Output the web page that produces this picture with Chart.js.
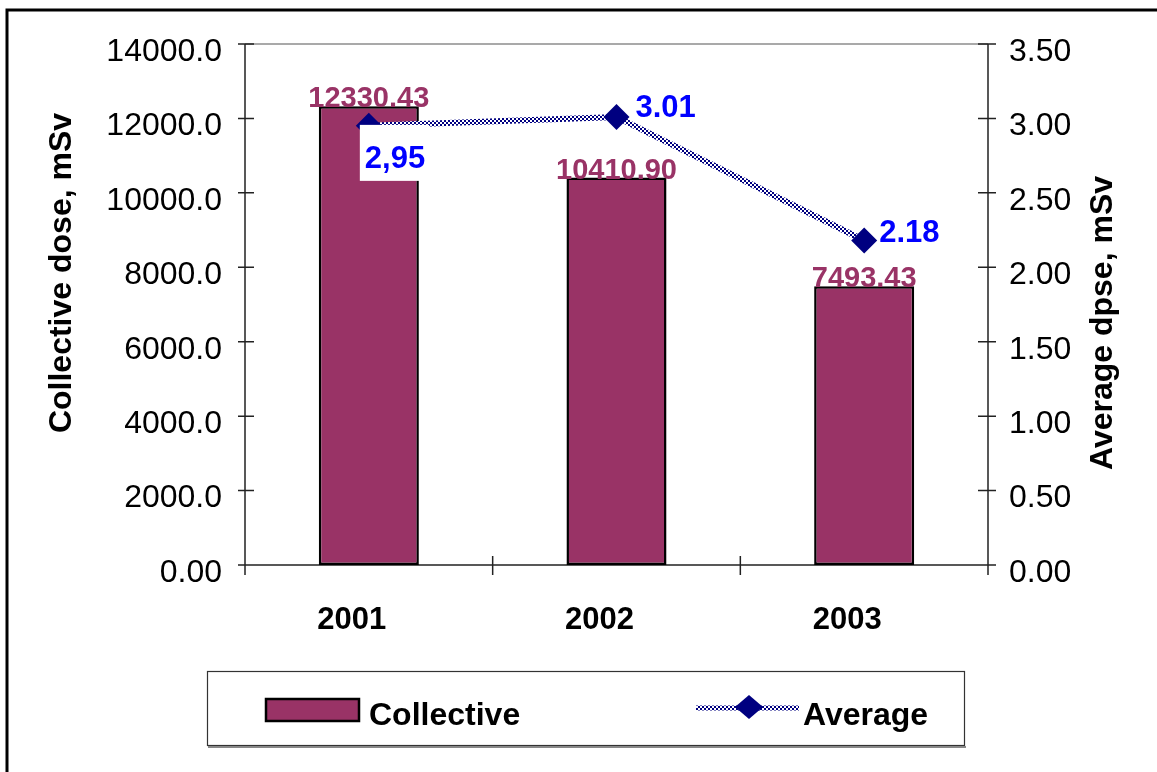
<!DOCTYPE html>
<html>
<head>
<meta charset="utf-8">
<script src="https://cdn.jsdelivr.net/npm/chart.js@4.4.1/dist/chart.umd.min.js"></script>
<style>
  html, body { margin: 0; padding: 0; background: #fff; }
  canvas { display: block; }
</style>
</head>
<body>
<canvas id="doseChart" width="1157" height="772"></canvas>
<script>
const years = ['2001', '2002', '2003'];
const collectiveDose = [12330.43, 10410.90, 7493.43];
const averageDose = [2.95, 3.01, 2.18];
const averageLabels = ['2,95', '3.01', '2.18'];
const doseTicks = [0, 2000, 4000, 6000, 8000, 10000, 12000, 14000];
const averageTicks = [0, 0.5, 1, 1.5, 2, 2.5, 3, 3.5];

const BAR_COLOR = '#993366';
const NAVY = '#000080';
const FONT = 'Arial, "Liberation Sans", sans-serif';

// checkered navy/white stroke for the average line
function checkerPattern() {
    const c = document.createElement('canvas');
    c.width = 4; c.height = 4;
    const g = c.getContext('2d');
    g.fillStyle = '#fff';
    g.fillRect(0, 0, 4, 4);
    g.fillStyle = NAVY;
    g.fillRect(0, 0, 2, 2);
    g.fillRect(2, 2, 2, 2);
    return g.createPattern(c, 'repeat');
}
const lineStroke = checkerPattern();

function diamond(ctx, x, y, rx, ry) {
    ctx.beginPath();
    ctx.moveTo(x, y - ry);
    ctx.lineTo(x + rx, y);
    ctx.lineTo(x, y + ry);
    ctx.lineTo(x - rx, y);
    ctx.closePath();
    ctx.fill();
}

// axis lines and tick marks that cross the axes
const axisFrame = {
    id: 'axisFrame',
    beforeDatasetsDraw(chart) {
        const { ctx, chartArea: a, scales } = chart;
        ctx.save();
        ctx.lineWidth = 1.5;
        ctx.strokeStyle = '#8c8c8c';
        ctx.beginPath();
        ctx.moveTo(a.left, a.top);
        ctx.lineTo(a.right, a.top);
        ctx.stroke();

        ctx.strokeStyle = '#222';
        ctx.beginPath();
        ctx.moveTo(a.left, a.top);
        ctx.lineTo(a.left, a.bottom);
        ctx.moveTo(a.right, a.top);
        ctx.lineTo(a.right, a.bottom);
        ctx.moveTo(a.left, a.bottom);
        ctx.lineTo(a.right, a.bottom);
        doseTicks.forEach(v => {
            const y = scales.y.getPixelForValue(v);
            ctx.moveTo(a.left - 7, y);
            ctx.lineTo(a.left + 9, y);
        });
        averageTicks.forEach(v => {
            const y = scales.y1.getPixelForValue(v);
            ctx.moveTo(a.right - 10, y);
            ctx.lineTo(a.right + 8, y);
        });
        const step = a.width / years.length;
        for (let i = 0; i <= years.length; i++) {
            const x = a.left + i * step;
            ctx.moveTo(x, a.bottom - 9);
            ctx.lineTo(x, a.bottom + 10);
        }
        ctx.stroke();
        ctx.restore();
    }
};

// value labels on bars and on the average points
const valueLabels = {
    id: 'valueLabels',
    afterDatasetsDraw(chart) {
        const { ctx } = chart;
        ctx.save();
        const bars = chart.getDatasetMeta(1).data;
        ctx.font = 'bold 29px ' + FONT;
        ctx.fillStyle = BAR_COLOR;
        ctx.textAlign = 'center';
        ctx.textBaseline = 'alphabetic';
        bars.forEach((bar, i) => {
            ctx.fillText(collectiveDose[i].toFixed(2), bar.x, bar.y + 1);
        });

        const pts = chart.getDatasetMeta(0).data;
        ctx.font = 'bold 31px ' + FONT;
        ctx.textAlign = 'left';
        ctx.textBaseline = 'middle';
        // first label sits below the point on a white box
        const p0 = pts[0];
        const w0 = ctx.measureText(averageLabels[0]).width;
        ctx.fillStyle = '#fff';
        ctx.fillRect(p0.x - 9, p0.y - 1, w0 + 9, 56);
        ctx.fillStyle = '#0000ff';
        ctx.fillText(averageLabels[0], p0.x - 4, p0.y + 34);
        ctx.fillText(averageLabels[1], pts[1].x + 19, pts[1].y - 8);
        ctx.fillText(averageLabels[2], pts[2].x + 15, pts[2].y - 7);
        ctx.restore();
    }
};

// axis titles, legend box and outer frame
const decorations = {
    id: 'decorations',
    afterDraw(chart) {
        const { ctx } = chart;
        ctx.save();
        ctx.fillStyle = '#000';
        ctx.font = 'bold 32px ' + FONT;
        ctx.textAlign = 'center';
        ctx.textBaseline = 'middle';
        ctx.translate(62, 273);
        ctx.rotate(-Math.PI / 2);
        ctx.fillText('Collective dose, mSv', 0, 0);
        ctx.restore();

        ctx.save();
        ctx.fillStyle = '#000';
        ctx.font = 'bold 32px ' + FONT;
        ctx.textAlign = 'center';
        ctx.textBaseline = 'middle';
        ctx.translate(1103, 323);
        ctx.rotate(-Math.PI / 2);
        ctx.fillText('Average dpse, mSv', 0, 0);
        ctx.restore();

        ctx.save();
        // legend
        ctx.strokeStyle = '#333';
        ctx.lineWidth = 1.2;
        ctx.strokeRect(207.5, 671.5, 757, 74);
        ctx.strokeStyle = '#888';
        ctx.lineWidth = 2;
        ctx.beginPath();
        ctx.moveTo(208, 747);
        ctx.lineTo(966, 747);
        ctx.stroke();

        ctx.fillStyle = BAR_COLOR;
        ctx.fillRect(266, 699, 93, 22);
        ctx.strokeStyle = '#000';
        ctx.lineWidth = 2.5;
        ctx.strokeRect(266, 699, 93, 22);

        ctx.strokeStyle = lineStroke;
        ctx.lineWidth = 5;
        ctx.beginPath();
        ctx.moveTo(696, 708);
        ctx.lineTo(799, 708);
        ctx.stroke();
        ctx.fillStyle = NAVY;
        diamond(ctx, 749, 707, 14, 12);

        ctx.fillStyle = '#000';
        ctx.font = 'bold 32px ' + FONT;
        ctx.textAlign = 'left';
        ctx.textBaseline = 'middle';
        ctx.fillText('Collective', 369, 716);
        ctx.fillText('Average', 803, 716);

        // outer frame (top and left edges)
        ctx.strokeStyle = '#000';
        ctx.lineWidth = 3;
        ctx.beginPath();
        ctx.moveTo(7, 800);
        ctx.lineTo(7, 10);
        ctx.lineTo(1200, 10);
        ctx.stroke();
        ctx.restore();
    }
};

new Chart(document.getElementById('doseChart').getContext('2d'), {
    type: 'bar',
    data: {
        labels: years,
        datasets: [{
                label: 'Average',
                type: 'line',
                data: averageDose,
                yAxisID: 'y1',
                order: 0,
                borderColor: lineStroke,
                borderWidth: 6,
                tension: 0,
                fill: false,
                pointStyle: 'rectRot',
                pointRadius: 13,
                pointBackgroundColor: NAVY,
                pointBorderColor: NAVY,
                pointBorderWidth: 0,
            },
            {
                label: 'Collective',
                data: collectiveDose,
                yAxisID: 'y',
                order: 1,
                backgroundColor: BAR_COLOR,
                borderColor: '#000',
                borderWidth: 2.5,
                borderSkipped: false,
                barPercentage: 0.404,
                categoryPercentage: 1,
            }
        ]
    },
    options: {
        responsive: false,
        animation: false,
        devicePixelRatio: 1,
        layout: { padding: { top: 44, left: 0, right: 0, bottom: 0 } },
        plugins: {
            legend: { display: false },
            tooltip: { enabled: false }
        },
        scales: {
            x: {
                grid: { display: false, drawTicks: false },
                border: { display: false },
                ticks: {
                    color: '#000',
                    padding: 37,
                    labelOffset: -17,
                    font: { family: FONT, size: 31, weight: 'bold' }
                },
                afterFit(scale) { scale.height = 207; }
            },
            y: {
                position: 'left',
                min: 0,
                max: 14000,
                grid: { display: false, drawTicks: false },
                border: { display: false },
                ticks: {
                    stepSize: 2000,
                    color: '#000',
                    padding: 23,
                    labelOffset: 8,
                    font: { family: FONT, size: 32 },
                    callback: v => v === 0 ? '0.00' : v.toFixed(1)
                },
                afterFit(scale) { scale.width = 245; }
            },
            y1: {
                position: 'right',
                min: 0,
                max: 3.5,
                grid: { display: false, drawTicks: false },
                border: { display: false },
                ticks: {
                    stepSize: 0.5,
                    color: '#000',
                    padding: 21,
                    labelOffset: 8,
                    font: { family: FONT, size: 32 },
                    callback: v => v.toFixed(2)
                },
                afterFit(scale) { scale.width = 169; }
            }
        }
    },
    plugins: [axisFrame, valueLabels, decorations]
});
</script>
</body>
</html>
